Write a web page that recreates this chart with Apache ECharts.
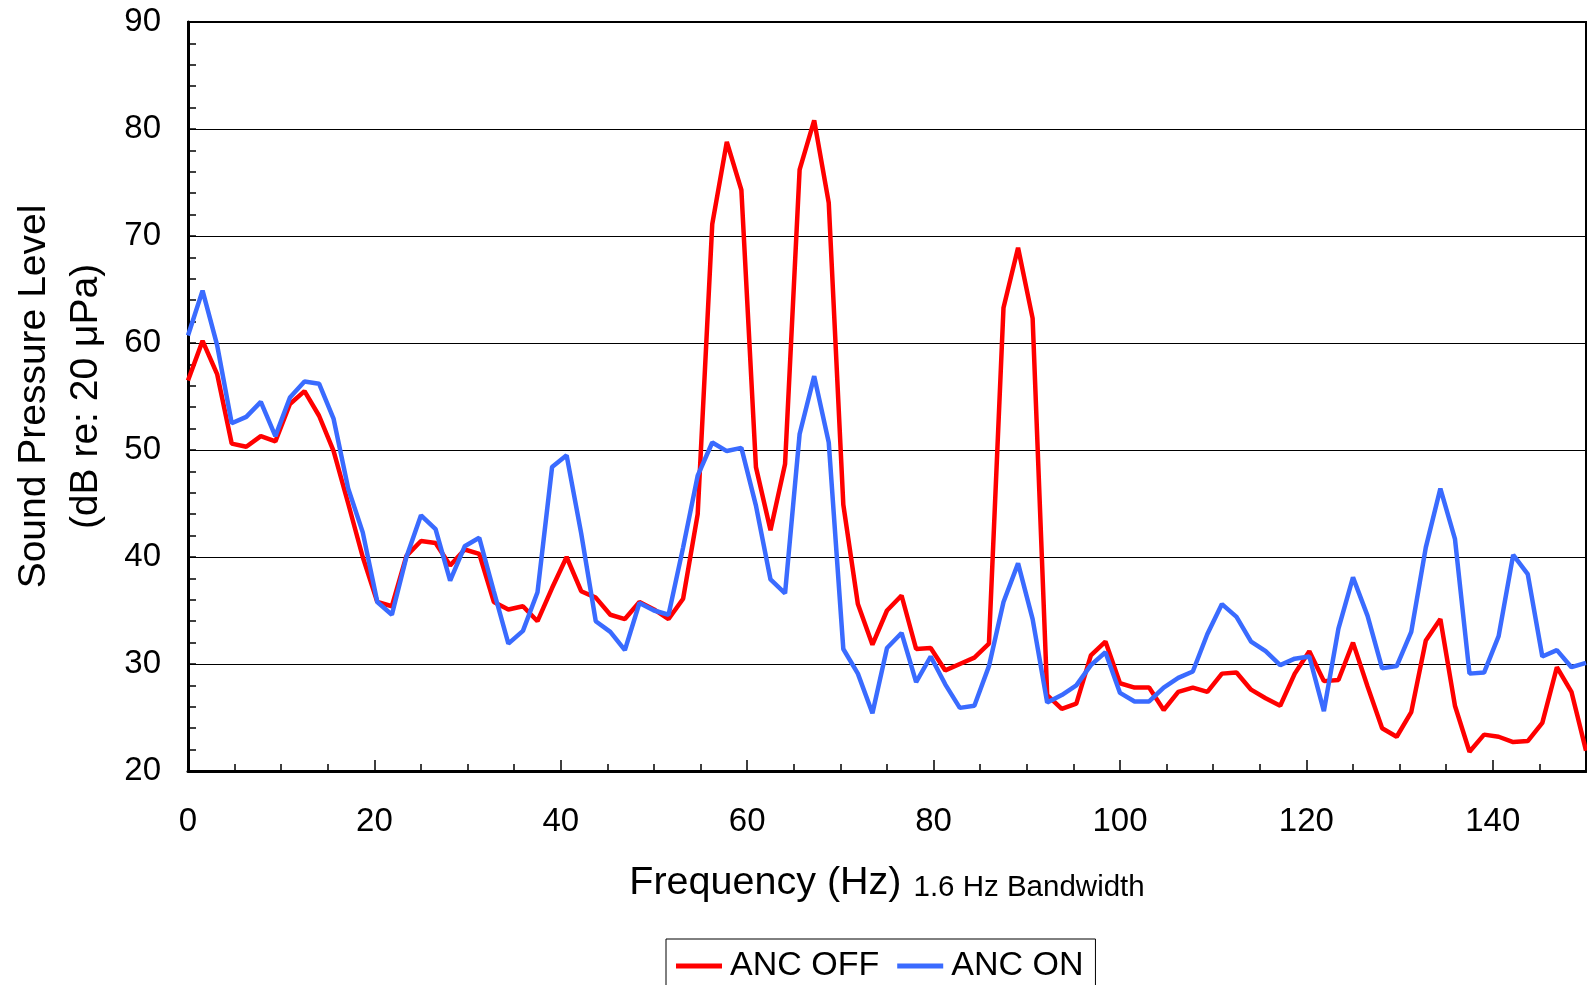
<!DOCTYPE html>
<html>
<head>
<meta charset="utf-8">
<script src="https://cdn.jsdelivr.net/npm/echarts@6/dist/echarts.min.js"></script>
<style>
html,body{margin:0;padding:0;background:#fff;}
#chart{width:1587px;height:985px;}
</style>
</head>
<body>
<div id="chart"></div>
<script>
// Frequency bins (Hz), 1.6 Hz bandwidth
var freqs = [0,1.5625,3.125,4.6875,6.25,7.8125,9.375,10.9375,12.5,14.0625,15.625,17.1875,18.75,20.3125,21.875,23.4375,25,26.5625,28.125,29.6875,31.25,32.8125,34.375,35.9375,37.5,39.0625,40.625,42.1875,43.75,45.3125,46.875,48.4375,50,51.5625,53.125,54.6875,56.25,57.8125,59.375,60.9375,62.5,64.0625,65.625,67.1875,68.75,70.3125,71.875,73.4375,75,76.5625,78.125,79.6875,81.25,82.8125,84.375,85.9375,87.5,89.0625,90.625,92.1875,93.75,95.3125,96.875,98.4375,100,101.5625,103.125,104.6875,106.25,107.8125,109.375,110.9375,112.5,114.0625,115.625,117.1875,118.75,120.3125,121.875,123.4375,125,126.5625,128.125,129.6875,131.25,132.8125,134.375,135.9375,137.5,139.0625,140.625,142.1875,143.75,145.3125,146.875,148.4375,150];

var ancOff = [56.5,60.2,57.1,50.6,50.3,51.3,50.8,54.3,55.5,53.2,49.9,45.0,40.0,35.8,35.4,40.1,41.5,41.3,39.2,40.7,40.3,35.8,35.1,35.4,34.0,37.1,40.0,36.8,36.2,34.6,34.2,35.8,35.1,34.2,36.1,44.0,71.1,78.8,74.3,48.4,42.5,48.7,76.2,80.8,73.1,44.9,35.6,31.8,35.0,36.4,31.4,31.5,29.4,30.0,30.6,31.9,63.3,68.9,62.3,27.1,25.8,26.3,30.8,32.1,28.2,27.8,27.8,25.7,27.4,27.8,27.4,29.1,29.2,27.6,26.8,26.1,29.1,31.2,28.4,28.5,32.0,27.9,24.0,23.2,25.5,32.2,34.2,26.1,21.8,23.4,23.2,22.7,22.8,24.5,29.7,27.4,21.9];

var ancOn = [60.7,64.9,59.8,52.5,53.1,54.5,51.3,54.9,56.4,56.2,52.9,46.4,42.3,35.8,34.6,40.0,43.9,42.6,37.8,41.0,41.8,36.8,31.9,33.1,36.7,48.4,49.5,42.2,34.0,33.0,31.3,35.7,35.0,34.6,40.9,47.6,50.7,49.9,50.2,44.8,37.9,36.6,51.5,56.9,50.7,31.4,29.1,25.4,31.5,32.9,28.3,30.7,28.1,25.9,26.1,29.8,35.8,39.4,34.2,26.4,27.1,28.0,29.9,31.1,27.3,26.5,26.5,27.8,28.7,29.3,32.8,35.6,34.4,32.1,31.2,29.9,30.5,30.7,25.6,33.3,38.1,34.5,29.6,29.8,33.0,40.9,46.4,41.7,29.1,29.2,32.6,40.2,38.4,30.7,31.3,29.7,30.1];

var seriesNames = ['ANC OFF', 'ANC ON'];
var xAxisTitle = 'Frequency (Hz)';
var xAxisNote = '1.6 Hz Bandwidth';
var yAxisTitle = ['Sound Pressure Level', '(dB re: 20 \u03bcPa)'];

function pairs(xs, ys) {
  var out = [];
  for (var i = 0; i < xs.length; i++) out.push([xs[i], ys[i]]);
  return out;
}

var FONT = "'Liberation Sans', Arial, sans-serif";
var chart = echarts.init(document.getElementById('chart'), null, {renderer: 'canvas'});
chart.setOption({
  backgroundColor: '#ffffff',
  animation: false,
  textStyle: {fontFamily: FONT, color: '#000'},
  grid: {
    left: 186, right: 1, top: 22, bottom: 214,
    show: true, borderColor: '#000', borderWidth: 2, backgroundColor: 'transparent'
  },
  legend: {
    data: seriesNames,
    left: 666, top: 939,
    orient: 'horizontal',
    padding: [10, 12, 12, 10],
    itemGap: 18,
    itemWidth: 46, itemHeight: 5,
    icon: 'rect',
    borderColor: '#000', borderWidth: 1,
    textStyle: {fontFamily: FONT, fontSize: 34, color: '#000', padding: [0, 0, 0, 3]}
  },
  xAxis: {
    type: 'value', min: 0, max: 150, interval: 20,
    name: '{a|' + xAxisTitle + '}{b|' + xAxisNote + '}',
    nameLocation: 'middle', nameGap: 86,
    nameTextStyle: {
      rich: {
        a: {fontFamily: FONT, fontSize: 39.5, color: '#000', verticalAlign: 'bottom', lineHeight: 46},
        b: {fontFamily: FONT, fontSize: 29.5, color: '#000', verticalAlign: 'bottom', lineHeight: 46, padding: [0, 0, 0, 12]}
      }
    },
    axisLine: {show: true, onZero: false, lineStyle: {color: '#000', width: 3}},
    axisTick: {show: true, inside: true, length: 11, lineStyle: {color: '#000', width: 1.5}},
    minorTick: {show: true, splitNumber: 4, length: 7, lineStyle: {color: '#000', width: 1.5}},
    axisLabel: {fontFamily: FONT, fontSize: 33, color: '#000', margin: 34, showMaxLabel: false},
    splitLine: {show: false}
  },
  yAxis: {
    type: 'value', min: 20, max: 90, interval: 10,
    name: yAxisTitle.join('\n'),
    nameLocation: 'middle', nameGap: 76, nameRotate: 90,
    nameTextStyle: {fontFamily: FONT, fontSize: 39, color: '#000', lineHeight: 52, align: 'center'},
    axisLine: {show: true, onZero: false, lineStyle: {color: '#000', width: 3}},
    axisTick: {show: true, inside: true, length: 8, lineStyle: {color: '#000', width: 1.5}},
    minorTick: {show: true, splitNumber: 5, length: 8, lineStyle: {color: '#000', width: 1.5}},
    axisLabel: {fontFamily: FONT, fontSize: 33, color: '#000', margin: 27},
    splitLine: {show: true, lineStyle: {color: '#000', width: 1.2}}
  },
  series: [
    {
      name: seriesNames[0], type: 'line', data: pairs(freqs, ancOff),
      symbol: 'none', lineStyle: {color: '#ff0000', width: 4.5}, itemStyle: {color: '#ff0000'},
      z: 3
    },
    {
      name: seriesNames[1], type: 'line', data: pairs(freqs, ancOn),
      symbol: 'none', lineStyle: {color: '#3a6bff', width: 4.5}, itemStyle: {color: '#3a6bff'},
      z: 4
    }
  ]
});
</script>
</body>
</html>
